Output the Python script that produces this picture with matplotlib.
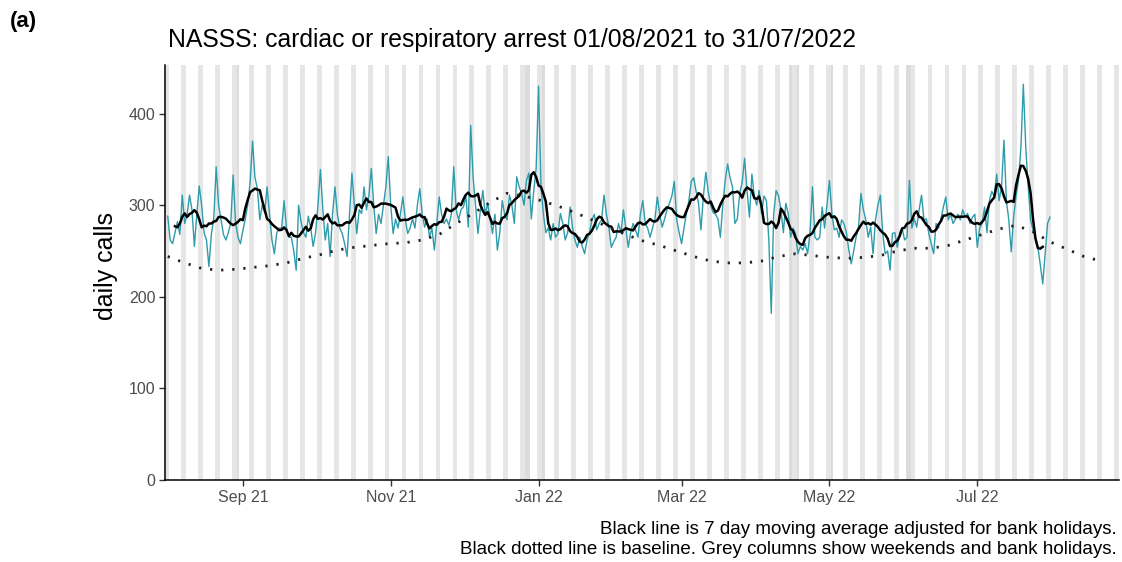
import numpy as np
import pandas as pd
import matplotlib
matplotlib.use("Agg")
import matplotlib.pyplot as plt
import matplotlib.dates as mdates

plt.rcParams['font.family'] = ['Liberation Sans', 'DejaVu Sans']

# daily NASSS calls, 01/08/2021 onwards
calls = [
    # Aug 2021
    288, 262, 258, 270, 282, 268, 311, 280, 290, 311, 295, 255, 290, 321, 300, 270,
    262, 233, 268, 285, 342, 300, 284, 268, 262, 270, 280, 333, 280, 265, 258,
    # Sep 2021
    272, 285, 300, 325, 370, 330, 318, 284, 300, 292, 320, 290, 262, 247, 270,
    275, 275, 305, 275, 265, 265, 250, 229, 300, 282, 270, 265, 288, 275, 255,
    # Oct 2021
    270, 300, 339, 295, 262, 280, 244, 290, 320, 290, 275, 269, 258, 244, 290,
    335, 300, 269, 295, 291, 320, 295, 310, 340, 300, 269, 290, 280, 300, 320, 353,
    # Nov 2021
    300, 269, 285, 275, 290, 309, 285, 269, 275, 285, 275, 300, 318, 290, 276,
    285, 265, 275, 251, 280, 309, 290, 280, 285, 278, 290, 342, 295, 284, 295,
    # Dec 2021
    298, 310, 276, 387, 330, 300, 269, 295, 316, 290, 302, 285, 269, 290, 251,
    270, 305, 290, 284, 311, 300, 280, 331, 320, 313, 300, 327, 335, 285, 315, 340,
    # Jan 2022
    430, 320, 290, 270, 275, 262, 280, 265, 269, 291, 280, 262, 270, 298, 276,
    262, 254, 265, 255, 247, 262, 270, 284, 290, 273, 280, 284, 311, 290, 276, 254,
    # Feb 2022
    260, 265, 280, 270, 295, 275, 254, 270, 280, 273, 265, 290, 305, 280, 275,
    265, 275, 285, 309, 290, 276, 285, 295, 302, 310, 326, 284, 270,
    # Mar 2022
    258, 275, 291, 305, 326, 330, 315, 302, 273, 310, 336, 315, 300, 292, 290,
    285, 265, 300, 327, 345, 330, 320, 280, 285, 313, 325, 351, 316, 287, 334, 310,
    # Apr 2022
    300, 316, 291, 310, 305, 262, 182, 290, 316, 310, 295, 270, 302, 291, 265,
    275, 269, 247, 255, 251, 258, 247, 270, 320, 265, 262, 265, 298, 275, 300,
    # May 2022
    327, 291, 273, 275, 265, 284, 280, 270, 251, 236, 250, 265, 276, 313, 295,
    284, 265, 276, 247, 284, 300, 311, 269, 247, 250, 229, 269, 270, 254, 270, 275,
    # Jun 2022
    262, 265, 327, 275, 285, 276, 295, 311, 284, 285, 269, 258, 247, 280, 275,
    285, 298, 309, 284, 290, 280, 285, 290, 284, 295, 287, 291, 280, 287, 290,
    # Jul 2022
    254, 275, 280, 298, 270, 305, 315, 310, 334, 305, 320, 371, 305, 284, 249,
    287, 310, 327, 363, 432, 363, 320, 284, 273, 265, 254, 235, 214, 247, 280, 287,
]

# weekly baseline, starting 01/08/2021
baseline = [
    244, 237, 231, 229, 230, 232, 234, 237, 242, 246, 251, 254, 256, 258,
    259, 262, 268, 280, 291, 303, 313, 310, 305, 299, 292, 284, 276, 268,
    261, 256, 250, 244, 239, 237, 237, 239, 244, 247, 245, 243, 242, 243,
    245, 250, 253, 253, 256, 262, 268, 274, 278, 271, 260, 252, 244, 239,
]

bank_holidays = ['2021-08-30', '2021-12-27', '2021-12-28', '2022-01-03',
                 '2022-04-15', '2022-04-18', '2022-05-02', '2022-06-02',
                 '2022-06-03', '2022-08-29']

days = pd.date_range('2021-08-01', periods=len(calls), freq='D')
base_days = pd.date_range('2021-08-01', periods=len(baseline), freq='7D')
calls_s = pd.Series(calls, index=days)
moving_avg = calls_s.rolling(7, center=True).mean()

fig = plt.figure(figsize=(11.22, 5.62), dpi=100)
ax = fig.add_axes([0.1471, 0.1459, 0.8503, 0.7384])

# grey columns for weekends and bank holidays
col_days = pd.date_range('2021-07-31', '2022-08-28', freq='D')
hol = pd.to_datetime(bank_holidays)
for d in col_days:
    n = mdates.date2num(d)
    if d in hol:
        ax.axvspan(n - 0.5, n + 0.5, color='#dcdcdc', lw=0, zorder=0)
    elif d.weekday() >= 5:
        ax.axvspan(n - 0.5, n + 0.5, color='#e6e6e6', lw=0, zorder=0)

ax.plot(days, calls_s.values, color='#2f9cab', lw=1.0, zorder=2)
ax.plot(days, moving_avg.values, color='black', lw=1.8, zorder=3)
ax.plot(base_days, baseline, color='#222222', lw=2.0,
        linestyle=(0, (0.8, 3.2)), zorder=3)

ax.set_xlim(mdates.date2num(pd.Timestamp('2021-07-31')) - 0.1,
            mdates.date2num(pd.Timestamp('2022-08-28')) + 0.5)
ax.set_ylim(0, 453)
ax.set_yticks([0, 100, 200, 300, 400])
ax.xaxis.set_major_locator(mdates.MonthLocator(bymonth=[1, 3, 5, 7, 9, 11]))
ax.xaxis.set_major_formatter(mdates.DateFormatter('%b %y'))

for s in ['top', 'right']:
    ax.spines[s].set_visible(False)
for s in ['left', 'bottom']:
    ax.spines[s].set_linewidth(1.1)
    ax.spines[s].set_color('black')
ax.tick_params(axis='both', length=4, width=1.0, color='#333333',
               labelsize=11.5, labelcolor='#4d4d4d', pad=3)

fig.text(0.0089, 0.9609, '(a)', fontsize=16, fontweight='bold', va='center', ha='left')
fig.text(0.1497, 0.9288, 'NASSS: cardiac or respiratory arrest 01/08/2021 to 31/07/2022',
         fontsize=17.8, va='center', ha='left')
fig.text(0.0945, 0.5267, 'daily calls', fontsize=18, rotation=90,
         va='center', ha='center')
fig.text(0.9955, 0.0587, 'Black line is 7 day moving average adjusted for bank holidays.',
         fontsize=13.5, va='center', ha='right')
fig.text(0.9955, 0.0231,
         'Black dotted line is baseline. Grey columns show weekends and bank holidays.',
         fontsize=13.5, va='center', ha='right')

fig.savefig('out.png', dpi=100)
